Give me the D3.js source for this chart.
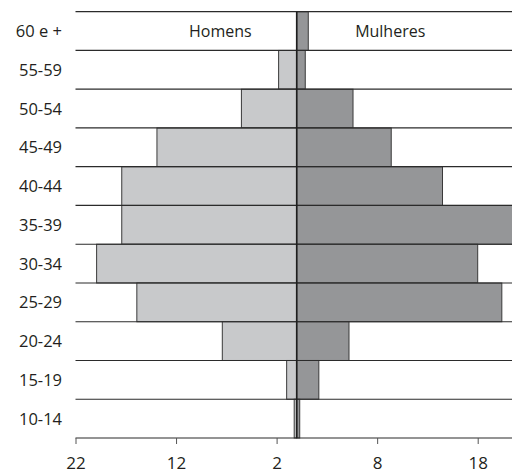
<!DOCTYPE html>
<html>
<head>
<meta charset="utf-8">
<script src="https://cdn.jsdelivr.net/npm/d3@7"></script>
<style>
  body { margin: 0; background: #fff; }
  text { font-family: "Open Sans", sans-serif; fill: #231f20; }
</style>
</head>
<body>
<div id="chart"></div>
<script>
// faixas etarias, de cima para baixo
const ages = ['60 e +', '55-59', '50-54', '45-49', '40-44', '35-39', '30-34', '25-29', '20-24', '15-19', '10-14'];
const homens = [0, 1.8, 5.5, 13.9, 17.4, 17.4, 19.9, 15.9, 7.4, 1.0, 0.25];
const mulheres = [1.15, 0.85, 5.6, 9.4, 14.5, 21.6, 18.0, 20.4, 5.2, 2.2, 0.3];
const tickVals = [-22, -12, -2, 8, 18];

const w = 512, h = 474;

const svg = d3.select('#chart')
  .append('svg')
  .attr('width', w)
  .attr('height', h);

const x = d3.scaleLinear()
  .domain([-22, 18])
  .range([75.5, 477.7]);

const y = d3.scaleBand()
  .domain(ages)
  .range([11.7, 438])
  .padding(0);

// homens (esquerda)
svg.selectAll('rect.men')
  .data(homens)
  .enter()
  .append('rect')
  .attr('class', 'men')
  .attr('x', d => x(-d))
  .attr('y', (d, i) => y(ages[i]))
  .attr('width', d => x(0) - x(-d))
  .attr('height', y.bandwidth())
  .attr('fill', '#c8c9cb')
  .attr('stroke', '#3a3a3a')
  .attr('stroke-width', 1);

// mulheres (direita)
svg.selectAll('rect.women')
  .data(mulheres)
  .enter()
  .append('rect')
  .attr('class', 'women')
  .attr('x', x(0))
  .attr('y', (d, i) => y(ages[i]))
  .attr('width', d => x(d) - x(0))
  .attr('height', y.bandwidth())
  .attr('fill', '#959698')
  .attr('stroke', '#3a3a3a')
  .attr('stroke-width', 1);

// linhas horizontais entre as faixas
const bounds = ages.map(a => y(a)).concat([y.range()[1]]);
svg.selectAll('line.row')
  .data(bounds)
  .enter()
  .append('line')
  .attr('class', 'row')
  .attr('x1', x(-22))
  .attr('x2', w)
  .attr('y1', d => d)
  .attr('y2', d => d)
  .attr('stroke', '#2b2b2b')
  .attr('stroke-width', 1.2);

// eixo central
svg.append('line')
  .attr('x1', x(0))
  .attr('x2', x(0))
  .attr('y1', y.range()[0])
  .attr('y2', y.range()[1])
  .attr('stroke', '#1e1e1e')
  .attr('stroke-width', 1.6);

// rotulos das faixas
svg.selectAll('text.age')
  .data(ages)
  .enter()
  .append('text')
  .attr('class', 'age')
  .attr('x', 62)
  .attr('y', d => y(d) + y.bandwidth() / 2)
  .attr('dy', '0.36em')
  .attr('text-anchor', 'end')
  .style('font-size', '16.5px')
  .text(d => d);

svg.append('text')
  .attr('x', x(-7.6))
  .attr('y', y(ages[0]) + y.bandwidth() / 2)
  .attr('dy', '0.36em')
  .attr('text-anchor', 'middle')
  .style('font-size', '16px')
  .text('Homens');

svg.append('text')
  .attr('x', x(9.3))
  .attr('y', y(ages[0]) + y.bandwidth() / 2)
  .attr('dy', '0.36em')
  .attr('text-anchor', 'middle')
  .style('font-size', '16px')
  .text('Mulheres');

// eixo x
const xAxis = d3.axisBottom(x)
  .tickValues(tickVals)
  .tickFormat(d => Math.abs(d))
  .tickSize(6)
  .tickPadding(13);

const gx = svg.append('g')
  .attr('transform', 'translate(0,' + y.range()[1] + ')')
  .call(xAxis);
gx.select('.domain').remove();
gx.selectAll('.tick line').attr('stroke', '#555');
gx.selectAll('.tick text')
  .style('font-size', '17px')
  .style('font-family', '"Open Sans", sans-serif')
  .attr('fill', '#231f20');
</script>
</body>
</html>
